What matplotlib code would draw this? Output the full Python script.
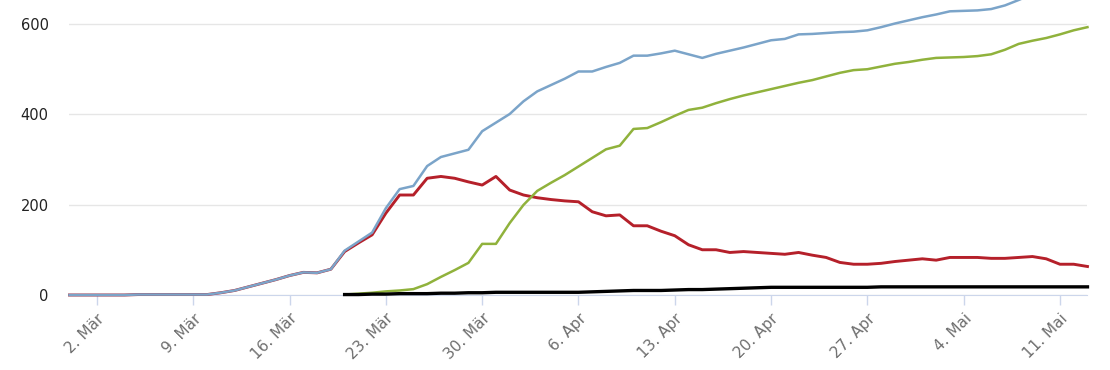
import matplotlib
matplotlib.use('Agg')
import matplotlib.pyplot as plt
import numpy as np
import pandas as pd

# Days shown on the chart, one value per day
dates = pd.date_range('2020-02-29', '2020-05-13')

# Total cases (blue)
total = [0, 0, 0, 0, 0, 1, 1, 1, 1, 1, 1, 5, 10, 18, 26, 34, 43, 50, 49, 57,
         98, 118, 138, 192, 234, 241, 285, 305, 313, 321, 362, 381,
         400, 428, 450, 464, 478, 494, 494, 504, 513, 529, 529, 534, 540, 532, 524,
         533, 540, 547, 555, 563, 566, 576, 577, 579, 581, 582, 585, 592, 600, 607,
         614, 620, 627, 628, 629, 632, 640, 652, 665, 666, 662, 671, 673]

# Active cases (red), identical to total until recoveries start
active = total[:20] + [
    96, 115, 133, 181, 221, 221, 258, 262, 258, 250, 243, 262,
    232, 221, 215, 211, 208, 206, 184, 175, 177, 153, 153, 141, 131, 111, 100,
    100, 94, 96, 94, 92, 90, 94, 88, 83, 72, 68, 68, 70, 74, 77,
    80, 77, 83, 83, 83, 81, 81, 83, 85, 80, 68, 68, 63]

# Recovered (green) and deaths (black), reported from 20 March on
recovered = [np.nan] * 20 + [
    1, 3, 5, 8, 10, 13, 24, 40, 55, 71, 113, 113,
    159, 199, 230, 248, 265, 284, 303, 322, 330, 367, 369, 382, 396, 409, 414,
    424, 433, 441, 448, 455, 462, 469, 475, 483, 491, 497, 499, 505, 511, 515,
    520, 524, 525, 526, 528, 532, 542, 555, 562, 568, 576, 585, 592]

deaths = [np.nan] * 20 + [
    1, 1, 2, 2, 3, 3, 3, 4, 4, 5, 5, 6,
    6, 6, 6, 6, 6, 6, 7, 8, 9, 10, 10, 10, 11, 12, 12,
    13, 14, 15, 16, 17, 17, 17, 17, 17, 17, 17, 17, 18, 18, 18,
    18, 18, 18, 18, 18, 18, 18, 18, 18, 18, 18, 18, 18]

tick_dates = pd.date_range('2020-03-02', '2020-05-11', freq='7D')
tick_labels = ['2. Mär', '9. Mär', '16. Mär', '23. Mär', '30. Mär', '6. Apr',
               '13. Apr', '20. Apr', '27. Apr', '4. Mai', '11. Mai']
y_ticks = [0, 200, 400, 600]

fig = plt.figure(figsize=(11.1, 3.7), dpi=100)
ax = fig.add_axes([0.0626, 0.2027, 0.9797 - 0.0626, 0.7973])

ax.plot(dates, active, color='#b5202a', lw=2.1, clip_on=False, zorder=3)
ax.plot(dates, total, color='#7ba4c9', lw=1.8, clip_on=False, zorder=4)
ax.plot(dates, recovered, color='#90b23c', lw=1.8, clip_on=False, zorder=3)
ax.plot(dates, deaths, color='#000000', lw=2.4, clip_on=False, zorder=5)

ax.set_xlim(dates[0], dates[-1])
ax.set_ylim(0, 652)

ax.set_yticks(y_ticks)
ax.set_yticklabels([str(v) for v in y_ticks])
ax.grid(axis='y', color='#e6e6e6', lw=1)
ax.set_axisbelow(True)

ax.set_xticks(tick_dates)
ax.set_xticklabels(tick_labels)
plt.setp(ax.get_xticklabels(), rotation=45, ha='right', rotation_mode='anchor')

for side in ['top', 'right', 'left']:
    ax.spines[side].set_visible(False)
ax.spines['bottom'].set_color('#ccd6eb')

ax.tick_params(axis='x', length=7.5, width=1, color='#ccd6eb', labelcolor='#6e6e6e',
               labelsize=11, pad=4)
ax.tick_params(axis='y', length=0, labelsize=10.5, labelcolor='#222222', pad=15)

fig.savefig('out.png', dpi=100)
